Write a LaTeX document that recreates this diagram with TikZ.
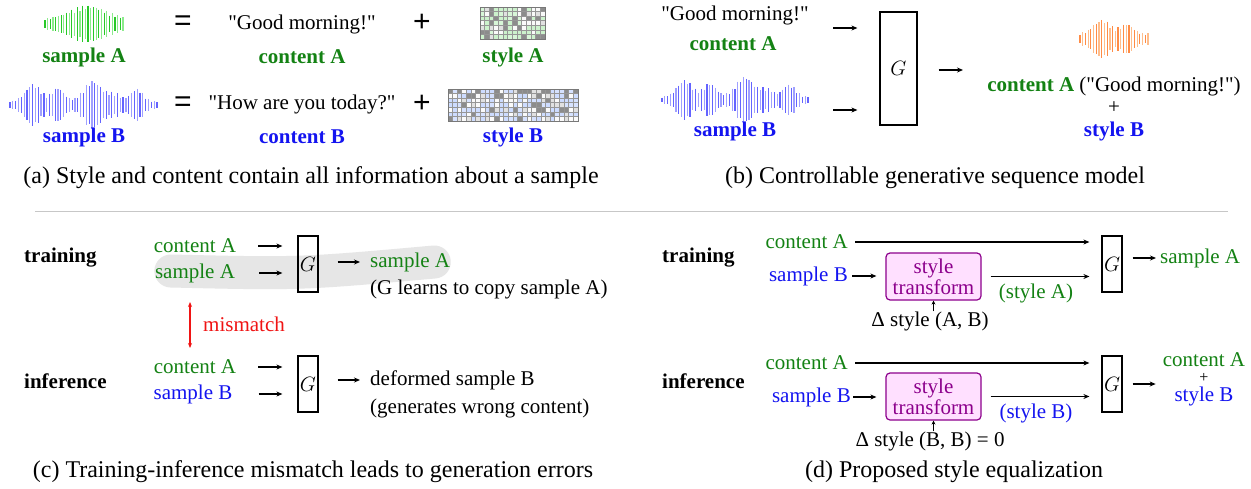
\documentclass[tikz,border=0pt]{standalone}
\usepackage{fontspec}
\setmainfont{Liberation Serif}[Ligatures=TeXOff]
\newfontfamily\arialf{Liberation Sans}
\usetikzlibrary{arrows.meta,backgrounds}
\definecolor{grn}{RGB}{20,130,20}
\definecolor{blu}{RGB}{20,20,240}
\definecolor{rd}{RGB}{240,20,20}
\definecolor{stpurple}{RGB}{140,0,140}
\definecolor{stpink}{RGB}{255,224,255}
\definecolor{blobgray}{RGB}{230,230,230}
\definecolor{gridgray}{RGB}{150,150,150}
\definecolor{pa0}{RGB}{140,140,140}
\definecolor{pa1}{RGB}{204,242,204}
\definecolor{pa2}{RGB}{250,250,250}
\definecolor{pa3}{RGB}{215,246,215}
\definecolor{pa4}{RGB}{225,225,225}
\definecolor{pa5}{RGB}{204,242,204}
\definecolor{pb0}{RGB}{140,140,140}
\definecolor{pb1}{RGB}{205,220,255}
\definecolor{pb2}{RGB}{250,250,250}
\definecolor{pb3}{RGB}{214,226,255}
\definecolor{pb4}{RGB}{225,225,225}
\definecolor{pb5}{RGB}{205,220,255}
\definecolor{gw1}{RGB}{40,200,40}
\definecolor{gw2}{RGB}{140,235,140}
\definecolor{bw1}{RGB}{100,100,255}
\definecolor{bw2}{RGB}{160,160,255}
\definecolor{ow1}{RGB}{255,140,70}
\definecolor{ow2}{RGB}{255,190,140}
% waveform: x0, x1, n, yc, H, colA, colB, envelope (in \xx)
\newcommand\mywave[8]{%
  \foreach \i in {0,...,#3}{%
    \pgfmathsetmacro\xx{#1+(#2-#1)*\i/#3}%
    \pgfmathsetmacro\hh{#5*(#8)*(0.68+0.32*abs(sin(\i*97.3)))}%
    \ifodd\i\def\cc{#7}\else\def\cc{#6}\fi
    \draw[\cc, line width=1.2pt] (\xx,#4-\hh) -- (\xx,#4+\hh);
  }%
}
% grid: x0, y0, cols, rows, cell, palette prefix
\newcommand\mygrid[6]{%
  \fill[gridgray] (#1,#2) rectangle ++(#3*#5,#4*#5);
  \foreach \cI in {1,...,#3}{%
    \foreach \rI in {1,...,#4}{%
      \pgfmathrandominteger{\kk}{0}{5}%
      \fill[#6\kk] (#1+\cI*#5-#5+0.5,#2+\rI*#5-#5+0.5) rectangle ++(#5-1.0,#5-1.0);
    }%
  }%
  \draw[gridgray!80!black, line width=0.8pt] (#1,#2) rectangle ++(#3*#5,#4*#5);
}
\begin{document}
\begin{tikzpicture}[x=1pt,y=-1pt,
  txt/.style={font=\fontsize{21}{24}\selectfont, inner sep=0pt},
  bld/.style={font=\fontsize{21}{24}\selectfont\bfseries, inner sep=0pt},
  captxt/.style={font=\fontsize{24}{28}\selectfont, inner sep=0pt},
  sym/.style={font=\fontsize{30}{30}\selectfont\arialf, inner sep=0pt},
  arr/.style={-{Stealth[length=6pt,width=5pt]}, line width=1.2pt},
  sarr/.style={-{Stealth[length=4pt,width=4pt]}, line width=1pt},
  gbox/.style={draw, line width=1.2pt, minimum width=20pt, minimum height=56pt, inner sep=0pt, font=\fontsize{21}{24}\selectfont},
  stbox/.style={draw=stpurple, fill=stpink, rounded corners=4pt, line width=1.2pt, text=stpurple, align=center, minimum width=95pt, minimum height=47pt, inner sep=0pt, font=\fontsize{21}{21}\selectfont}
]
\begin{scope}[on background layer]
\fill[white] (0,0) rectangle (1251,488);
\end{scope}
\useasboundingbox (0,0) rectangle (1251,488);

% ---------------- (a) ----------------
\mywave{45}{123}{29}{24}{19}{gw1}{gw2}{0.25+0.75*exp(-((\xx-88)/26)^2)}
\mywave{10}{157}{52}{105}{24}{bw1}{bw2}{0.15+0.75*exp(-((\xx-33)/11)^2)+0.6*exp(-((\xx-58)/9)^2)+0.9*exp(-((\xx-93)/13)^2)+0.35*exp(-((\xx-115)/8)^2)+0.55*exp(-((\xx-137)/9)^2)}
\pgfmathsetseed{11}
\mygrid{480}{7}{14}{7}{4.65}{pa}
\mygrid{448}{89}{28}{7}{4.65}{pb}

\node[bld, text=grn] (sampA) at (84,57) {sample A};
\node[sym] (eqA) at (183,23) {=};
\node[txt] (gmA) at (302,24) {"Good morning!"};
\node[bld, text=grn] (contA) at (302,57) {content A};
\node[sym] (plA) at (422,23) {+};
\node[bld, text=grn] (styA) at (513,57) {style A};

\node[bld, text=blu] (sampB) at (84,137) {sample B};
\node[sym] (eqB) at (183,104) {=};
\node[txt] (hwB) at (302,104) {"How are you today?"};
\node[bld, text=blu] (contB) at (302,137) {content B};
\node[sym] (plB) at (422,104) {+};
\node[bld, text=blu] (styB) at (513,137) {style B};

\node[captxt] (capa) at (311,178) {(a) Style and content contain all information about a sample};

% ---------------- (b) ----------------
\node[txt] (gmb) at (735,15) {"Good morning!"};
\node[bld, text=grn] (cab) at (733,44) {content A};
\mywave{662}{808}{52}{100}{23}{bw1}{bw2}{0.15+0.75*exp(-((\xx-685)/11)^2)+0.6*exp(-((\xx-710)/9)^2)+0.9*exp(-((\xx-745)/13)^2)+0.35*exp(-((\xx-767)/8)^2)+0.55*exp(-((\xx-789)/9)^2)}
\node[bld, text=blu] (sbb) at (735,131) {sample B};
\node[gbox, minimum width=37pt, minimum height=113pt] (Gb) at (898.5,68.5) {$G$};
\coordinate (b1) at (833,28);
\coordinate (b2) at (833,110);
\coordinate (b3) at (963,70);
\draw[arr, shorten >=22pt] (b1) -- (b1 -| Gb.west);
\draw[arr, shorten >=22pt] (b2) -- (b2 -| Gb.west);
\draw[arr, shorten <=21pt] (Gb.east |- b3) -- (b3);
\mywave{1080}{1148}{25}{39}{20}{ow1}{ow2}{0.28+0.72*exp(-((\xx-1102)/12)^2)+0.5*exp(-((\xx-1127)/9)^2)}
\node[txt] (outb) at (1114,86) {{\bfseries\color{grn}content A} ("Good morning!")};
\node[txt] (plb) at (1114,108) {+};
\node[bld, text=blu] (sbB) at (1114,131) {style B};
\node[captxt] (capb) at (935,178) {(b) Controllable generative sequence model};

% separator
\draw[black!22, line width=1pt] (35,211) -- (1228,211);

% ---------------- (c) ----------------
\node[bld, anchor=west] (trc) at (24,258) {training};
\node[txt, text=grn] (ca1) at (195,246) {content A};
\node[txt, text=grn] (sa1) at (195,273) {sample A};
\node[gbox] (Gc1) at (308,264) {$G$};
\node[txt, text=grn, anchor=west] (so1) at (370,262) {sample A};
\node[txt, anchor=west] (cp1) at (370,289) {(G learns to copy sample A)};
\begin{scope}[on background layer]
\draw[blobgray, line width=33pt, line cap=round] ([xshift=16pt,yshift=2pt]sa1.west) .. controls (300,274) .. ([xshift=-16pt]so1.east);
\end{scope}
\draw[arr, shorten <=22pt, shorten >=15pt] (ca1.east) -- (ca1.east -| Gc1.west);
\draw[arr, shorten <=24pt, shorten >=15pt] (sa1.east) -- (sa1.east -| Gc1.west);
\draw[arr, shorten <=19pt, shorten >=10pt] (Gc1.east |- so1.west) -- (so1.west);

\coordinate (mm1) at (190,302);
\coordinate (mm2) at (190,348);
\draw[{Stealth[length=5pt,width=4pt]}-{Stealth[length=5pt,width=4pt]}, rd, line width=1.1pt] (mm1) -- (mm2);
\node[txt, text=rd, anchor=west] (mmt) at (203,324) {mismatch};

\node[bld, anchor=west] (inc) at (24,381) {inference};
\node[txt, text=grn] (ca2) at (195,367) {content A};
\node[txt, text=blu] (sb2) at (193,394) {sample B};
\node[gbox] (Gc2) at (308,384) {$G$};
\node[txt, anchor=west] (df2) at (370,380) {deformed sample B};
\node[txt, anchor=west] (gw2) at (370,408) {(generates wrong content)};
\draw[arr, shorten <=22pt, shorten >=15pt] (ca2.east) -- (ca2.east -| Gc2.west);
\draw[arr, shorten <=26pt, shorten >=15pt] (sb2.east) -- (sb2.east -| Gc2.west);
\draw[arr, shorten <=19pt, shorten >=10pt] (Gc2.east |- df2.west) -- (df2.west);
\node[captxt] (capc) at (313,472) {(c) Training-inference mismatch leads to generation errors};

% ---------------- (d) ----------------
\node[bld, anchor=west] (trd) at (662,258) {training};
\node[txt, text=grn, anchor=east] (ca3) at (848,242) {content A};
\node[txt, text=blu, anchor=east] (sb3) at (848,276) {sample B};
\node[stbox] (st1) at (933.5,276.5) {style\\transform};
\node[gbox] (Gd1) at (1112,264) {$G$};
\node[txt, text=grn, anchor=west] (sd1) at (1160,258) {sample A};
\node[txt, text=grn] (sA) at (1036,293) {(style A)};
\node[txt] (dAB) at (930,321) {Δ style (A, B)};
\draw[arr, shorten <=7pt, shorten >=12pt] (ca3.east) -- (ca3.east -| Gd1.west);
\draw[arr, shorten <=4pt, shorten >=9pt] (sb3.east) -- (sb3.east -| st1.west);
\draw[arr, shorten <=9pt, shorten >=12pt] (st1.east) -- (st1.east -| Gd1.west);
\draw[sarr] (dAB.north -| st1.south) -- (st1.south);
\draw[arr, shorten <=10pt, shorten >=4pt] (Gd1.east |- sd1.west) -- (sd1.west);

\node[bld, anchor=west] (ind) at (662,381) {inference};
\node[txt, text=grn, anchor=east] (ca4) at (848,363) {content A};
\node[txt, text=blu, anchor=east] (sb4) at (851,397) {sample B};
\node[stbox] (st2) at (933.5,396.5) {style\\transform};
\node[gbox] (Gd2) at (1112,384) {$G$};
\node[txt, text=blu] (sBd) at (1036,413) {(style B)};
\node[txt] (dBB) at (930,441) {Δ style (B, B) = 0};
\node[txt, text=grn] (oc4) at (1204,360) {content A};
\node[txt, font=\fontsize{16}{16}\selectfont] (op4) at (1204,378) {+};
\node[txt, text=blu] (os4) at (1204,396) {style B};
\draw[arr, shorten <=7pt, shorten >=12pt] (ca4.east) -- (ca4.east -| Gd2.west);
\draw[arr, shorten <=2pt, shorten >=9pt] (sb4.east) -- (sb4.east -| st2.west);
\draw[arr, shorten <=9pt, shorten >=12pt] (st2.east) -- (st2.east -| Gd2.west);
\draw[sarr] (dBB.north -| st2.south) -- (st2.south);
\draw[arr, shorten <=10pt, shorten >=7pt] (Gd2.east) -- (Gd2.east -| oc4.west);
\node[captxt] (capd) at (954,472) {(d) Proposed style equalization};
\end{tikzpicture}
\end{document}
